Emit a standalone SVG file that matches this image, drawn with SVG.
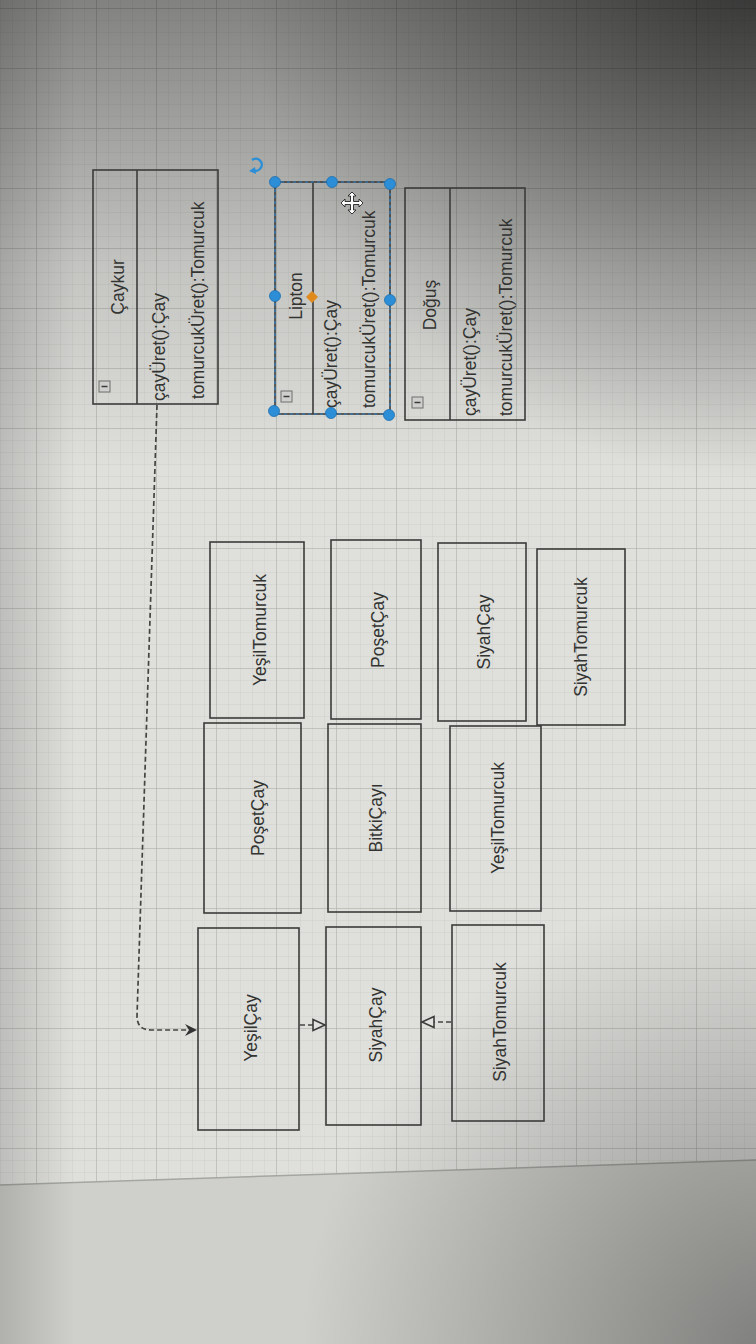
<svg xmlns="http://www.w3.org/2000/svg" width="756" height="1344" viewBox="0 0 756 1344">
<style>
.box{fill:none;stroke:#3b3c3a;stroke-width:1.6}
.div{stroke:#3b3c3a;stroke-width:1.6}
.t{font-family:"Liberation Sans",Arial,sans-serif;font-size:17.5px;fill:#333432}
.icon{fill:#cfcfcd;stroke:#6e6e6c;stroke-width:1}
.minus{stroke:#3a3a3a;stroke-width:1.5}
.dash{fill:none;stroke:#444543;stroke-width:1.7;stroke-dasharray:5 3}
.h{fill:#2b8ed6;stroke:#1f6fae;stroke-width:0.8}
</style>
<defs>
<pattern id="minor" width="12" height="12" patternUnits="userSpaceOnUse" x="0" y="8">
<path d="M0 0V12M0 0H12" stroke="#c3c4bf" stroke-width="0.6" fill="none"/>
</pattern>
<pattern id="major" width="60" height="60" patternUnits="userSpaceOnUse" x="36" y="8">
<path d="M0 0V60M0 0H60" stroke="#a9aba6" stroke-width="1" fill="none"/>
</pattern>
<linearGradient id="topShade" x1="0" y1="0" x2="0" y2="1">
<stop offset="0" stop-color="#000" stop-opacity="0.42"/>
<stop offset="0.2" stop-color="#000" stop-opacity="0.12"/>
<stop offset="0.35" stop-color="#000" stop-opacity="0"/>
</linearGradient>
<radialGradient id="trShade" cx="760" cy="-40" r="520" gradientUnits="userSpaceOnUse">
<stop offset="0" stop-color="#000" stop-opacity="0.6"/>
<stop offset="0.5" stop-color="#000" stop-opacity="0.3"/>
<stop offset="1" stop-color="#000" stop-opacity="0"/>
</radialGradient>
<radialGradient id="brShade" cx="780" cy="1360" r="480" gradientUnits="userSpaceOnUse">
<stop offset="0" stop-color="#000" stop-opacity="0.4"/>
<stop offset="1" stop-color="#000" stop-opacity="0"/>
</radialGradient>
<linearGradient id="leftShade" x1="0" y1="0" x2="1" y2="0">
<stop offset="0" stop-color="#000" stop-opacity="0.15"/>
<stop offset="0.1" stop-color="#000" stop-opacity="0"/>
</linearGradient>
<marker id="filled" markerWidth="14" markerHeight="12" refX="12" refY="6" orient="auto" markerUnits="userSpaceOnUse">
<path d="M0,0 L12,6 L0,12 L4,6 Z" fill="#333"/>
</marker>
<marker id="hollow" markerWidth="16" markerHeight="14" refX="13" refY="7" orient="auto" markerUnits="userSpaceOnUse">
<path d="M1,1.5 L13,7 L1,12.5 Z" fill="#e2e2de" stroke="#3b3c3a" stroke-width="1.6"/>
</marker>
</defs>

<!-- background -->
<rect width="756" height="1344" fill="#dfe0dc"/>
<polygon points="0,0 756,0 756,1160 0,1185" fill="url(#minor)"/>
<polygon points="0,0 756,0 756,1160 0,1185" fill="url(#major)"/>
<polygon points="0,1185 756,1160 756,1344 0,1344" fill="#cfd0cb"/>
<line x1="0" y1="1185" x2="756" y2="1160" stroke="#a4a6a1" stroke-width="1.5"/>
<rect width="756" height="1344" fill="url(#topShade)"/>
<rect width="756" height="1344" fill="url(#trShade)"/>
<rect width="756" height="1344" fill="url(#brShade)"/>
<rect width="756" height="1344" fill="url(#leftShade)"/>

<!-- class nodes -->
<g id="caykur">
<rect class="box" x="93" y="170" width="125" height="234"/>
<line class="div" x1="137" y1="170" x2="137" y2="404"/>
<rect class="icon" x="99" y="381" width="11" height="11"/>
<line class="minus" x1="101.5" y1="386.5" x2="107.5" y2="386.5"/>
<text class="t" x="124" y="287" text-anchor="middle" transform="rotate(-90 124 287)">Çaykur</text>
<text class="t" x="165" y="401" transform="rotate(-90 165 401)">çayÜret():Çay</text>
<text class="t" x="204" y="399" transform="rotate(-90 204 399)">tomurcukÜret():Tomurcuk</text>
</g>

<g id="lipton">
<rect class="box" x="275" y="182" width="115" height="232"/>
<line class="div" x1="313" y1="182" x2="313" y2="414"/>
<rect class="icon" x="281" y="391" width="11" height="11"/>
<line class="minus" x1="283.5" y1="396.5" x2="289.5" y2="396.5"/>
<text class="t" x="302" y="296" text-anchor="middle" transform="rotate(-90 302 296)">Lipton</text>
<text class="t" x="337" y="408" transform="rotate(-90 337 408)">çayÜret():Çay</text>
<text class="t" x="375" y="408" transform="rotate(-90 375 408)">tomurcukÜret():Tomurcuk</text>
<rect x="275" y="182" width="115" height="232" fill="none" stroke="#2f80c8" stroke-width="1.2" stroke-dasharray="3 3"/>
<polygon points="312,291 318,297 312,303 306,297" fill="#e08a1e"/>
<circle class="h" cx="275" cy="182" r="5.5"/>
<circle class="h" cx="332" cy="182" r="5.5"/>
<circle class="h" cx="390" cy="184" r="5.5"/>
<circle class="h" cx="275" cy="296" r="5.5"/>
<circle class="h" cx="390" cy="300" r="5.5"/>
<circle class="h" cx="274" cy="411" r="5.5"/>
<circle class="h" cx="331" cy="413" r="5.5"/>
<circle class="h" cx="389" cy="415" r="5.5"/>
<path d="M252,160 A6,6 0 1 1 253,170" fill="none" stroke="#2b8ed6" stroke-width="2.4"/>
<path d="M249,171 L255,167 L256,174 Z" fill="#2b8ed6"/>
<g transform="translate(352,203)" fill="#fff" stroke="#222" stroke-width="0.9">
<path d="M0,-11 L4,-7 L1.5,-7 L1.5,-1.5 L7,-1.5 L7,-4 L11,0 L7,4 L7,1.5 L1.5,1.5 L1.5,7 L4,7 L0,11 L-4,7 L-1.5,7 L-1.5,1.5 L-7,1.5 L-7,4 L-11,0 L-7,-4 L-7,-1.5 L-1.5,-1.5 L-1.5,-7 L-4,-7 Z"/>
</g>
</g>

<g id="dogus">
<rect class="box" x="405" y="188" width="120" height="232"/>
<line class="div" x1="450" y1="188" x2="450" y2="420"/>
<rect class="icon" x="412" y="397" width="11" height="11"/>
<line class="minus" x1="414.5" y1="402.5" x2="420.5" y2="402.5"/>
<text class="t" x="436" y="305" text-anchor="middle" transform="rotate(-90 436 305)">Doğuş</text>
<text class="t" x="476" y="416" transform="rotate(-90 476 416)">çayÜret():Çay</text>
<text class="t" x="512" y="416" transform="rotate(-90 512 416)">tomurcukÜret():Tomurcuk</text>
</g>

<!-- row 1 -->
<g id="yesilTomurcuk1">
<rect class="box" x="210" y="542" width="94" height="176"/>
<text class="t" x="266" y="630" text-anchor="middle" transform="rotate(-90 266 630)">YeşilTomurcuk</text>
</g>
<g id="posetCay1">
<rect class="box" x="331" y="540" width="90" height="179"/>
<text class="t" x="384" y="630" text-anchor="middle" transform="rotate(-90 384 630)">PoşetÇay</text>
</g>
<g id="siyahCay1">
<rect class="box" x="438" y="543" width="88" height="178"/>
<text class="t" x="490" y="632" text-anchor="middle" transform="rotate(-90 490 632)">SiyahÇay</text>
</g>
<g id="siyahTomurcuk1">
<rect class="box" x="537" y="549" width="88" height="176"/>
<text class="t" x="587" y="637" text-anchor="middle" transform="rotate(-90 587 637)">SiyahTomurcuk</text>
</g>

<!-- row 2 -->
<g id="posetCay2">
<rect class="box" x="204" y="723" width="97" height="190"/>
<text class="t" x="264" y="818" text-anchor="middle" transform="rotate(-90 264 818)">PoşetÇay</text>
</g>
<g id="bitkiCayi">
<rect class="box" x="328" y="724" width="93" height="188"/>
<text class="t" x="382" y="818" text-anchor="middle" transform="rotate(-90 382 818)">BitkiÇayı</text>
</g>
<g id="yesilTomurcuk2">
<rect class="box" x="450" y="726" width="91" height="185"/>
<text class="t" x="504" y="818" text-anchor="middle" transform="rotate(-90 504 818)">YeşilTomurcuk</text>
</g>

<!-- row 3 -->
<g id="yesilCay">
<rect class="box" x="198" y="928" width="101" height="202"/>
<text class="t" x="257" y="1028" text-anchor="middle" transform="rotate(-90 257 1028)">YeşilÇay</text>
</g>
<g id="siyahCay2">
<rect class="box" x="326" y="927" width="95" height="198"/>
<text class="t" x="382" y="1025" text-anchor="middle" transform="rotate(-90 382 1025)">SiyahÇay</text>
</g>
<g id="siyahTomurcuk2">
<rect class="box" x="452" y="925" width="92" height="196"/>
<text class="t" x="506" y="1022" text-anchor="middle" transform="rotate(-90 506 1022)">SiyahTomurcuk</text>
</g>

<!-- connectors -->
<g id="connectors">
<path class="dash" d="M157,405 L137,1016 Q137,1030 151,1030 L197,1030" marker-end="url(#filled)"/>
<path class="dash" d="M300,1025 L325,1025" marker-end="url(#hollow)"/>
<path class="dash" d="M451,1022 L422,1022" marker-end="url(#hollow)"/>
</g>
</svg>
